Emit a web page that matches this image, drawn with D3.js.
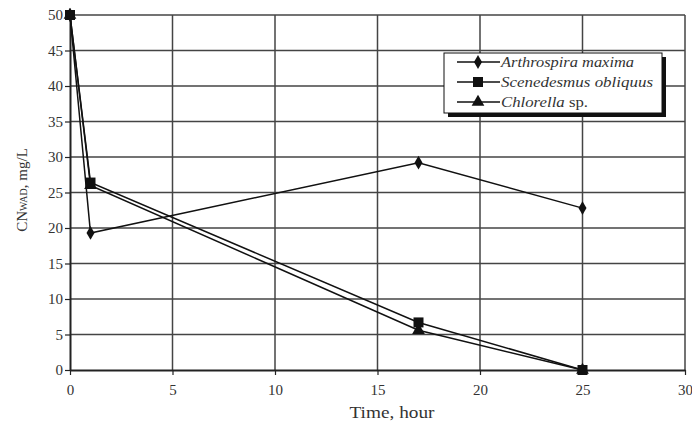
<!DOCTYPE html>
<html><head><meta charset="utf-8">
<script src="https://cdn.jsdelivr.net/npm/d3@7"></script>
<style>body{margin:0;background:#fff}svg{display:block}svg text{font-family:"Liberation Serif","Times New Roman",Times,serif}</style>
</head><body>
<svg id="c" width="692" height="421"></svg>
<script>
const time = [0, 1, 17, 25];
const arthrospira = [50, 19.3, 29.2, 22.8];
const scenedesmus = [50, 26.4, 6.7, 0];
const chlorella = [50, 26.0, 5.6, 0];
const seriesNames = ["Arthrospira maxima", "Scenedesmus obliquus", "Chlorella"];
const xTicks = [0, 5, 10, 15, 20, 25, 30];
const yTicks = [0, 5, 10, 15, 20, 25, 30, 35, 40, 45, 50];

const svg = d3.select("#c");
const L = 70, R = 685, T = 15, B = 370;
const x = d3.scaleLinear().domain([0, 30]).range([L, R]);
const y = d3.scaleLinear().domain([0, 50]).range([B, T]);
const font = '"Liberation Serif","Times New Roman",Times,serif';

// grid
svg.append("g").selectAll("line").data(xTicks.slice(1)).join("line")
  .attr("x1", d => x(d)).attr("x2", d => x(d)).attr("y1", T).attr("y2", B)
  .attr("stroke", "#444").attr("stroke-width", 1.5);
svg.append("g").selectAll("line").data(yTicks.slice(1)).join("line")
  .attr("x1", L).attr("x2", R).attr("y1", d => y(d)).attr("y2", d => y(d))
  .attr("stroke", "#444").attr("stroke-width", 1.5);

// axes
const ya = svg.append("g").attr("transform", `translate(${L},0)`)
  .call(d3.axisLeft(y).tickValues(yTicks).tickSize(5).tickSizeOuter(0));
const xa = svg.append("g").attr("transform", `translate(0,${B})`)
  .call(d3.axisBottom(x).tickValues(xTicks).tickSize(5).tickSizeOuter(0));
[ya, xa].forEach(a => {
  a.attr("font-family", null);
  a.select(".domain").attr("stroke", "#222").attr("stroke-width", 2);
  a.selectAll(".tick line").attr("stroke", "#222").attr("stroke-width", 1.2);
  a.selectAll("text").style("font-family", font).attr("font-size", 15).attr("fill", "#333");
});
ya.selectAll("text").attr("x", -7);
xa.selectAll("text").attr("y", 14).attr("dy", "0.71em");

// axis titles
svg.append("text").attr("x", 392).attr("y", 418).attr("text-anchor", "middle")
  .style("font-family", font).attr("font-size", 17).attr("fill", "#333")
  .attr("textLength", 85).attr("lengthAdjust", "spacingAndGlyphs").text("Time, hour");
const yt = svg.append("text").attr("transform", "translate(27,190) rotate(-90)")
  .attr("text-anchor", "middle").style("font-family", font).attr("font-size", 15).attr("fill", "#333");
yt.append("tspan").text("CN");
yt.append("tspan").attr("font-size", 10).text("WAD");
yt.append("tspan").text(", mg/L");

// series
const data = [arthrospira, scenedesmus, chlorella];
const symbols = [d3.symbolDiamond, d3.symbolSquare, d3.symbolTriangle];
const sizes = [55, 100, 70];
const line = d3.line().x((d, i) => x(time[i])).y(d => y(d));
data.forEach((s, k) => {
  svg.append("path").datum(s).attr("d", line).attr("fill", "none")
    .attr("stroke", "#111").attr("stroke-width", 1.5);
});
[2, 1, 0].forEach(k => {
  svg.append("g").selectAll("path").data(data[k]).join("path")
    .attr("transform", (d, i) => `translate(${x(time[i])},${y(d)})`)
    .attr("d", d3.symbol().type(symbols[k]).size(sizes[k])).attr("fill", "#111");
});

// legend
const lg = svg.append("g");
lg.append("rect").attr("x", 448).attr("y", 57).attr("width", 218).attr("height", 60).attr("fill", "#111");
lg.append("rect").attr("x", 444).attr("y", 53).attr("width", 218).attr("height", 60)
  .attr("fill", "#fff").attr("stroke", "#111").attr("stroke-width", 1);
const rows = [62, 82, 102];
const widths = [133, 152, 87];
seriesNames.forEach((n, k) => {
  lg.append("line").attr("x1", 457).attr("x2", 500).attr("y1", rows[k]).attr("y2", rows[k])
    .attr("stroke", "#111").attr("stroke-width", 1.5);
  lg.append("path").attr("transform", `translate(478,${rows[k]})`)
    .attr("d", d3.symbol().type(symbols[k]).size(sizes[k])).attr("fill", "#111");
  const t = lg.append("text").attr("x", 501).attr("y", rows[k] + 5)
    .style("font-family", font).attr("font-size", 15).attr("fill", "#333")
    .attr("textLength", widths[k]).attr("lengthAdjust", "spacingAndGlyphs");
  t.append("tspan").attr("font-style", "italic").text(n);
  if (k === 2) t.append("tspan").text(" sp.");
});
</script>
</body></html>
